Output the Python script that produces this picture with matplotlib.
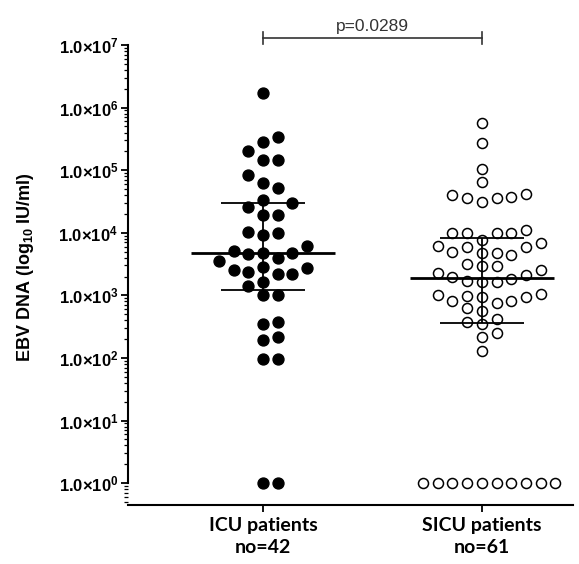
import numpy as np
import matplotlib
matplotlib.use("Agg")
import matplotlib.pyplot as plt
from matplotlib.ticker import LogLocator, FixedLocator, NullFormatter

# ---------------------------
# DATA (EBV DNA, IU/ml)
# ---------------------------
groups = ["ICU patients\nno=42", "SICU patients\nno=61"]

icu_values = [1.7e6, 3.4e5, 2.8e5, 2.0e5, 1.45e5, 1.45e5, 8.3e4, 6.3e4, 5.2e4,
              3.4e4, 2.95e4, 2.6e4, 1.9e4, 1.9e4, 1.02e4, 9.8e3, 9.1e3, 6.2e3,
              5.2e3, 4.8e3, 4.7e3, 4.6e3, 3.9e3, 3.5e3, 2.8e3, 2.7e3, 2.5e3,
              2.4e3, 2.2e3, 2.2e3, 1.65e3, 1.4e3, 1.0e3, 1.0e3, 380, 350, 220,
              190, 95, 95, 1, 1]

sicu_values = [5.6e5, 2.7e5, 1.05e5, 6.5e4, 4.2e4, 4.0e4, 3.7e4, 3.6e4, 3.6e4,
               3.1e4, 1.1e4, 9.8e3, 9.8e3, 9.8e3, 9.8e3, 7.6e3, 6.8e3, 6.2e3,
               6.0e3, 6.0e3, 4.9e3, 4.7e3, 4.7e3, 4.4e3, 3.2e3, 2.9e3, 2.9e3,
               2.5e3, 2.3e3, 2.1e3, 2.0e3, 1.8e3, 1.7e3, 1.65e3, 1.65e3, 1.05e3,
               1.0e3, 980, 950, 950, 810, 810, 760, 620, 560, 420, 380, 350, 250,
               220, 130, 1, 1, 1, 1, 1, 1, 1, 1, 1, 1]

# median and interquartile range as shown
medians = [4.7e3, 1.86e3]
q1 = [1.2e3, 3.6e2]
q3 = [3.0e4, 8.4e3]

p_text = "p=0.0289"

# ---------------------------
# FONTS
# ---------------------------
plt.rcParams["font.family"] = ["Liberation Sans", "DejaVu Sans"]
plt.rcParams["mathtext.fontset"] = "custom"
plt.rcParams["mathtext.rm"] = "Liberation Sans"
plt.rcParams["mathtext.bf"] = "Liberation Sans:bold"


# ---------------------------
# SIMPLE BEESWARM LAYOUT
# ---------------------------
def swarm(values, center, slot, x_px, y_px, dmin):
    logv = np.log10(values)
    order = np.argsort(logv)
    xs = np.zeros(len(values))
    placed = []
    for i in order:
        y = logv[i]
        k = 0
        while True:
            for off in ([0] if k == 0 else [k, -k]):
                x = center + off * slot
                ok = all(np.hypot((x - px) * x_px, (y - py) * y_px) >= dmin
                         for px, py in placed)
                if ok:
                    break
            else:
                k += 1
                continue
            break
        xs[i] = x
        placed.append((x, y))
    return xs


fig = plt.figure(figsize=(5.79, 5.64), dpi=100)
W, H = 579, 564
ax = fig.add_axes([128 / W, 1 - 505 / H, (573 - 128) / W, (505 - 30) / H])

x_lo, x_hi = 0.384, 2.416
y_lo, y_hi = -0.35, 7.24
ax.set_xlim(x_lo, x_hi)
ax.set_yscale("log")
ax.set_ylim(10 ** y_lo, 10 ** y_hi)

x_px = 445 / (x_hi - x_lo)
y_px = 475 / (y_hi - y_lo)
slot = 14.7 / x_px

x_icu = swarm(icu_values, 1, slot, x_px, y_px, 13.5)
x_sicu = swarm(sicu_values, 2, slot, x_px, y_px, 12)

ax.scatter(x_icu, icu_values, s=62, color="black", zorder=3, clip_on=False)
ax.scatter(x_sicu, sicu_values, s=52, facecolor="white", edgecolor="black",
           linewidths=1.1, zorder=3, clip_on=False)

# median + IQR
for i, c in enumerate([1, 2]):
    ax.hlines(medians[i], c - 0.33, c + 0.33, color="black", lw=2.0, zorder=4)
    ax.hlines([q1[i], q3[i]], c - 0.19, c + 0.19, color="black", lw=1.3, zorder=4)
    ax.vlines(c, q1[i], q3[i], color="black", lw=1.3, zorder=4)

# significance bracket
yb = 10 ** (y_hi - 8 / y_px)
cap = 6 / y_px
ax.plot([1, 2], [yb, yb], color="#333333", lw=1.2, clip_on=False)
for c in [1, 2]:
    ax.plot([c, c], [10 ** (np.log10(yb) - cap), 10 ** (np.log10(yb) + cap)],
            color="#333333", lw=1.2, clip_on=False)
ax.text(1.5, 10 ** (np.log10(yb) + 4 / y_px), p_text, ha="center", va="bottom",
        fontsize=12.5, color="#333333")

# ---------------------------
# AXES
# ---------------------------
for s in ["top", "right"]:
    ax.spines[s].set_visible(False)
ax.spines["left"].set_bounds(1, 1e7)
ax.spines["left"].set_linewidth(1.5)
ax.spines["bottom"].set_linewidth(1.5)

decades = [10.0 ** k for k in range(8)]
ax.yaxis.set_major_locator(FixedLocator(decades))
ax.set_yticklabels([r"$\mathbf{1.0{\times}10^{%d}}$" % k for k in range(8)],
                   fontsize=12)
ax.yaxis.set_minor_locator(LogLocator(base=10, subs=np.arange(2, 10), numticks=20))
ax.yaxis.set_minor_formatter(NullFormatter())
ax.tick_params(axis="y", which="major", length=5, width=1.3, pad=2)
ax.tick_params(axis="y", which="minor", length=3, width=0.9)

ax.set_xticks([1, 2])
ax.set_xticklabels(groups, fontsize=14, fontweight="bold",
                   fontfamily=["Lato", "DejaVu Sans"], linespacing=1.3)
ax.tick_params(axis="x", length=5, width=1.3, pad=4)

ax.set_ylabel(r"EBV DNA (log$_{\mathbf{10}}$ IU/ml)", fontsize=13,
              fontweight="bold", labelpad=16)

fig.savefig("out.png", dpi=100)
